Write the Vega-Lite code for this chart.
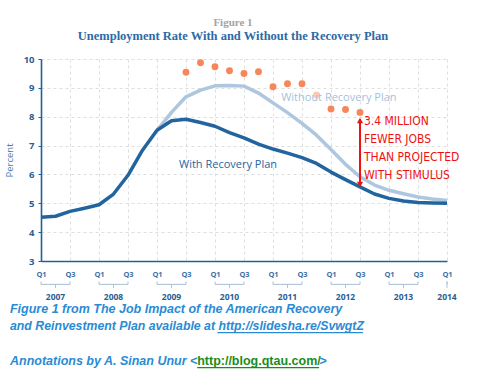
{
  "$schema": "https://vega.github.io/schema/vega-lite/v6.json",
  "width": 406,
  "height": 202,
  "autosize": "none",
  "padding": {"left": 41, "top": 59, "right": 33, "bottom": 112},
  "background": "white",
  "config": {"view": {"stroke": null}},
  "resolve": {"axis": {"x": "independent", "y": "independent"}},
  "title": {
    "text": "Figure 1",
    "subtitle": "Unemployment Rate With and Without the Recovery Plan",
    "anchor": "middle",
    "dx": -11,
    "offset": 12,
    "font": "Liberation Serif",
    "fontSize": 11,
    "fontWeight": "bold",
    "color": "#a3a3a3",
    "subtitleFont": "Liberation Serif",
    "subtitleFontSize": 12.5,
    "subtitleFontWeight": "bold",
    "subtitleColor": "#2d6aa5",
    "subtitlePadding": 2
  },
  "datasets": {
    "rates": [
      {"q": 0, "series": "With Recovery Plan", "rate": 4.52},
      {"q": 1, "series": "With Recovery Plan", "rate": 4.55},
      {"q": 2, "series": "With Recovery Plan", "rate": 4.72},
      {"q": 3, "series": "With Recovery Plan", "rate": 4.83},
      {"q": 4, "series": "With Recovery Plan", "rate": 4.95},
      {"q": 5, "series": "With Recovery Plan", "rate": 5.32},
      {"q": 6, "series": "With Recovery Plan", "rate": 5.97},
      {"q": 7, "series": "With Recovery Plan", "rate": 6.84},
      {"q": 8, "series": "With Recovery Plan", "rate": 7.53},
      {"q": 9, "series": "With Recovery Plan", "rate": 7.86},
      {"q": 10, "series": "With Recovery Plan", "rate": 7.91},
      {"q": 11, "series": "With Recovery Plan", "rate": 7.8},
      {"q": 12, "series": "With Recovery Plan", "rate": 7.67},
      {"q": 13, "series": "With Recovery Plan", "rate": 7.45},
      {"q": 14, "series": "With Recovery Plan", "rate": 7.27},
      {"q": 15, "series": "With Recovery Plan", "rate": 7.05},
      {"q": 16, "series": "With Recovery Plan", "rate": 6.88},
      {"q": 17, "series": "With Recovery Plan", "rate": 6.74},
      {"q": 18, "series": "With Recovery Plan", "rate": 6.58},
      {"q": 19, "series": "With Recovery Plan", "rate": 6.38},
      {"q": 20, "series": "With Recovery Plan", "rate": 6.08},
      {"q": 21, "series": "With Recovery Plan", "rate": 5.82},
      {"q": 22, "series": "With Recovery Plan", "rate": 5.57},
      {"q": 23, "series": "With Recovery Plan", "rate": 5.32},
      {"q": 24, "series": "With Recovery Plan", "rate": 5.17},
      {"q": 25, "series": "With Recovery Plan", "rate": 5.08},
      {"q": 26, "series": "With Recovery Plan", "rate": 5.03},
      {"q": 27, "series": "With Recovery Plan", "rate": 5.01},
      {"q": 28, "series": "With Recovery Plan", "rate": 5.0},
      {"q": 8, "series": "Without Recovery Plan", "rate": 7.53},
      {"q": 9, "series": "Without Recovery Plan", "rate": 8.15},
      {"q": 10, "series": "Without Recovery Plan", "rate": 8.69},
      {"q": 11, "series": "Without Recovery Plan", "rate": 8.92},
      {"q": 12, "series": "Without Recovery Plan", "rate": 9.07},
      {"q": 13, "series": "Without Recovery Plan", "rate": 9.08},
      {"q": 14, "series": "Without Recovery Plan", "rate": 9.06},
      {"q": 15, "series": "Without Recovery Plan", "rate": 8.82},
      {"q": 16, "series": "Without Recovery Plan", "rate": 8.48},
      {"q": 17, "series": "Without Recovery Plan", "rate": 8.14},
      {"q": 18, "series": "Without Recovery Plan", "rate": 7.77},
      {"q": 19, "series": "Without Recovery Plan", "rate": 7.36},
      {"q": 20, "series": "Without Recovery Plan", "rate": 6.86},
      {"q": 21, "series": "Without Recovery Plan", "rate": 6.35},
      {"q": 22, "series": "Without Recovery Plan", "rate": 5.92},
      {"q": 23, "series": "Without Recovery Plan", "rate": 5.63},
      {"q": 24, "series": "Without Recovery Plan", "rate": 5.45},
      {"q": 25, "series": "Without Recovery Plan", "rate": 5.33},
      {"q": 26, "series": "Without Recovery Plan", "rate": 5.22},
      {"q": 27, "series": "Without Recovery Plan", "rate": 5.15},
      {"q": 28, "series": "Without Recovery Plan", "rate": 5.1},
      {"q": 10, "series": "Actual", "rate": 9.54},
      {"q": 11, "series": "Actual", "rate": 9.87},
      {"q": 12, "series": "Actual", "rate": 9.73},
      {"q": 13, "series": "Actual", "rate": 9.59},
      {"q": 14, "series": "Actual", "rate": 9.5},
      {"q": 15, "series": "Actual", "rate": 9.56},
      {"q": 16, "series": "Actual", "rate": 9.04},
      {"q": 17, "series": "Actual", "rate": 9.14},
      {"q": 18, "series": "Actual", "rate": 9.14},
      {"q": 19, "series": "Actual", "rate": 8.75},
      {"q": 20, "series": "Actual", "rate": 8.27},
      {"q": 21, "series": "Actual", "rate": 8.25},
      {"q": 22, "series": "Actual", "rate": 8.15}
    ],
    "years": [
      {"year": "2007", "start": 0, "mid": 1, "end": 2},
      {"year": "2008", "start": 4, "mid": 5, "end": 6},
      {"year": "2009", "start": 8, "mid": 9, "end": 10},
      {"year": "2010", "start": 12, "mid": 13, "end": 14},
      {"year": "2011", "start": 16, "mid": 17, "end": 18},
      {"year": "2012", "start": 20, "mid": 21, "end": 22},
      {"year": "2013", "start": 24, "mid": 25, "end": 26},
      {"year": "2014", "start": 28, "mid": 28, "end": 28}
    ],
    "gap": [
      {"q": 22, "without": 8.15, "with": 5.57, "note": ["3.4 MILLION", "FEWER JOBS", "THAN PROJECTED", "WITH STIMULUS"]}
    ]
  },
  "layer": [
    {
      "data": {"name": "rates"},
      "transform": [{"filter": "datum.series == 'Without Recovery Plan'"}],
      "mark": {"type": "line", "color": "#aec6de", "strokeWidth": 3.5, "strokeJoin": "round"},
      "encoding": {
        "x": {
          "field": "q", "type": "quantitative",
          "scale": {"domain": [0, 28], "nice": false, "zero": false},
          "axis": {
            "title": null,
            "values": [0, 2, 4, 6, 8, 10, 12, 14, 16, 18, 20, 22, 24, 26, 28],
            "labelExpr": "datum.value % 4 == 0 ? 'Q1' : 'Q3'",
            "labelOverlap": false,
            "labelSeparation": 0,
            "labelBound": false,
            "labelFlush": false,
            "ticks": false,
            "grid": true,
            "gridDash": [3, 3],
            "gridColor": "#dedede",
            "domainColor": "#1f5f9c",
            "domainWidth": 1.6,
            "labelFont": "Open Sans",
            "labelFontWeight": "bold",
            "labelFontSize": 7.5,
            "labelColor": "#3d72a8",
            "labelPadding": 9
          }
        },
        "y": {
          "field": "rate", "type": "quantitative",
          "scale": {"domain": [3, 10], "nice": false, "zero": false},
          "axis": {
            "title": "Percent",
            "values": [3, 4, 5, 6, 7, 8, 9, 10],
            "labelOverlap": false,
            "labelSeparation": 0,
            "labelBound": false,
            "labelFlush": false,
            "grid": true,
            "gridDash": [3, 3],
            "gridColor": "#dedede",
            "domainColor": "#1f5f9c",
            "domainWidth": 1.6,
            "tickColor": "#1f5f9c",
            "tickSize": 3,
            "labelFont": "Open Sans",
            "labelFontWeight": "bold",
            "labelFontSize": 9.5,
            "labelColor": "#2a5d93",
            "labelPadding": 4,
            "titleFont": "Open Sans",
            "titleFontWeight": "normal",
            "titleFontSize": 9.5,
            "titleColor": "#3f7ab5",
            "titlePadding": 9
          }
        }
      }
    },
    {
      "data": {"name": "rates"},
      "transform": [{"filter": "datum.series == 'With Recovery Plan'"}],
      "mark": {"type": "line", "color": "#22649e", "strokeWidth": 3.5, "strokeJoin": "round"},
      "encoding": {
        "x": {"field": "q", "type": "quantitative", "axis": null},
        "y": {"field": "rate", "type": "quantitative", "axis": null}
      }
    },
    {
      "data": {"name": "rates"},
      "transform": [{"filter": "datum.series == 'Actual'"}],
      "mark": {"type": "circle", "color": "#f7875b", "size": 48},
      "encoding": {
        "x": {"field": "q", "type": "quantitative", "axis": null},
        "y": {"field": "rate", "type": "quantitative", "axis": null},
        "opacity": {"condition": {"test": "datum.q == 19", "value": 0.45}, "value": 1}
      }
    },
    {
      "data": {"values": [{"label": "With Recovery Plan"}]},
      "mark": {"type": "text", "font": "Open Sans", "fontSize": 11, "color": "#23659f", "align": "center", "baseline": "middle"},
      "encoding": {"x": {"datum": 12.9, "axis": null}, "y": {"datum": 6.34, "axis": null}, "text": {"field": "label"}}
    },
    {
      "data": {"values": [{"label": "Without Recovery Plan"}]},
      "mark": {"type": "text", "font": "Open Sans", "fontSize": 11, "color": "#a8bfd8", "align": "center", "baseline": "middle"},
      "encoding": {"x": {"datum": 20.54, "axis": null}, "y": {"datum": 8.66, "axis": null}, "text": {"field": "label"}}
    },
    {
      "data": {"name": "gap"},
      "mark": {"type": "rule", "color": "#ee1111", "strokeWidth": 2},
      "encoding": {"x": {"field": "q", "type": "quantitative", "axis": null}, "y": {"datum": 7.9, "axis": null}, "y2": {"datum": 5.62}}
    },
    {
      "data": {"name": "gap"},
      "mark": {"type": "point", "shape": "triangle-up", "filled": true, "color": "#ee1111", "size": 38, "opacity": 1},
      "encoding": {"x": {"field": "q", "type": "quantitative", "axis": null}, "y": {"datum": 7.87, "axis": null}}
    },
    {
      "data": {"name": "gap"},
      "mark": {"type": "point", "shape": "triangle-down", "filled": true, "color": "#ee1111", "size": 38, "opacity": 1},
      "encoding": {"x": {"field": "q", "type": "quantitative", "axis": null}, "y": {"datum": 5.65, "axis": null}}
    },
    {
      "data": {"name": "gap"},
      "mark": {"type": "text", "font": "DejaVu Sans Condensed, Liberation Sans", "fontSize": 12, "lineHeight": 17.8, "color": "#ee1111", "align": "left", "baseline": "alphabetic"},
      "encoding": {"x": {"datum": 22.27, "axis": null}, "y": {"datum": 7.7, "axis": null}, "text": {"field": "note"}}
    },
    {
      "data": {"name": "years"},
      "mark": {"type": "rule", "color": "#a9bfd5", "strokeWidth": 1},
      "encoding": {"x": {"field": "start", "type": "quantitative", "axis": null}, "x2": {"field": "end"}, "y": {"datum": 2.19, "axis": null}}
    },
    {
      "data": {"name": "years"},
      "mark": {"type": "rule", "color": "#a9bfd5", "strokeWidth": 1},
      "encoding": {"x": {"field": "start", "type": "quantitative", "axis": null}, "y": {"datum": 2.19, "axis": null}, "y2": {"datum": 2.29}}
    },
    {
      "data": {"name": "years"},
      "mark": {"type": "rule", "color": "#a9bfd5", "strokeWidth": 1},
      "encoding": {"x": {"field": "end", "type": "quantitative", "axis": null}, "y": {"datum": 2.19, "axis": null}, "y2": {"datum": 2.29}}
    },
    {
      "data": {"name": "years"},
      "mark": {"type": "rule", "color": "#a9bfd5", "strokeWidth": 1},
      "encoding": {"x": {"field": "mid", "type": "quantitative", "axis": null}, "y": {"datum": 2.19, "axis": null}, "y2": {"datum": 2.07}}
    },
    {
      "data": {"name": "years"},
      "mark": {"type": "text", "font": "Open Sans", "fontWeight": "bold", "fontSize": 8.5, "color": "#2a5d93", "align": "center", "baseline": "middle"},
      "encoding": {"x": {"field": "mid", "type": "quantitative", "axis": null}, "y": {"datum": 1.76, "axis": null}, "text": {"field": "year"}}
    },
    {
      "data": {"values": [{"line": "Figure 1 from The Job Impact of the American Recovery"}]},
      "mark": {"type": "text", "font": "Liberation Sans", "fontStyle": "italic", "fontWeight": "bold", "fontSize": 12.5, "color": "#2a8bd4", "align": "left", "baseline": "middle"},
      "encoding": {"x": {"datum": -2.14, "axis": null}, "y": {"datum": 1.333, "axis": null}, "text": {"field": "line"}}
    },
    {
      "data": {"values": [{"line": "and Reinvestment Plan available at http://slidesha.re/SvwgtZ"}]},
      "mark": {"type": "text", "font": "Liberation Sans", "fontStyle": "italic", "fontWeight": "bold", "fontSize": 12.3, "color": "#2a8bd4", "align": "left", "baseline": "middle"},
      "encoding": {"x": {"datum": -2.14, "axis": null}, "y": {"datum": 0.743, "axis": null}, "text": {"field": "line"}}
    },
    {
      "data": {"values": [{"line": "underline"}]},
      "mark": {"type": "rule", "color": "#2a8bd4", "strokeWidth": 1.2},
      "encoding": {"x": {"datum": 12.17, "axis": null}, "x2": {"datum": 22.2}, "y": {"datum": 0.517, "axis": null}}
    },
    {
      "data": {"values": [{"line": "Annotations by A. Sinan Unur <"}]},
      "mark": {"type": "text", "font": "Liberation Sans", "fontStyle": "italic", "fontWeight": "bold", "fontSize": 12.5, "color": "#2a8bd4", "align": "left", "baseline": "middle"},
      "encoding": {"x": {"datum": -2.14, "axis": null}, "y": {"datum": -0.472, "axis": null}, "text": {"field": "line"}}
    },
    {
      "data": {"values": [{"line": "http://blog.qtau.com/"}]},
      "mark": {"type": "text", "font": "Liberation Sans", "fontWeight": "bold", "fontSize": 12.5, "color": "#1b8c1b", "align": "left", "baseline": "middle"},
      "encoding": {"x": {"datum": 10.77, "axis": null}, "y": {"datum": -0.472, "axis": null}, "text": {"field": "line"}}
    },
    {
      "data": {"values": [{"line": "underline"}]},
      "mark": {"type": "rule", "color": "#1b8c1b", "strokeWidth": 1.2},
      "encoding": {"x": {"datum": 10.77, "axis": null}, "x2": {"datum": 19.18}, "y": {"datum": -0.698, "axis": null}}
    },
    {
      "data": {"values": [{"line": ">"}]},
      "mark": {"type": "text", "font": "Liberation Sans", "fontWeight": "bold", "fontSize": 12.5, "color": "#2a8bd4", "align": "left", "baseline": "middle"},
      "encoding": {"x": {"datum": 19.2, "axis": null}, "y": {"datum": -0.472, "axis": null}, "text": {"field": "line"}}
    }
  ]
}
